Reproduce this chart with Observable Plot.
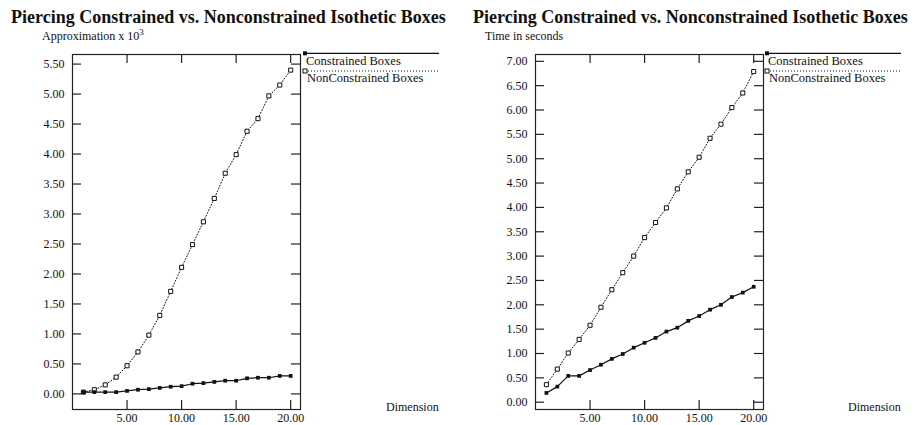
<!DOCTYPE html>
<html>
<head>
<meta charset="utf-8">
<script src="https://cdn.jsdelivr.net/npm/d3@7"></script>
<script src="https://cdn.jsdelivr.net/npm/@observablehq/plot@0.6"></script>
<style>
  html, body { margin: 0; padding: 0; background: #fff; }
  #root { position: relative; width: 914px; height: 425px; overflow: hidden; font-family: "Liberation Serif", "Times New Roman", serif; color: #111; }
  .abs { position: absolute; white-space: nowrap; line-height: 1; }
  .title { font-size: 18px; font-weight: bold; }
  .lbl { font-size: 12px; }
  .leg { font-size: 12.5px; }
  sup { font-size: 9px; vertical-align: 5px; line-height: 0; }
</style>
</head>
<body>
<div id="root"></div>
<script>
// ---- data ----
const dims = [1,2,3,4,5,6,7,8,9,10,11,12,13,14,15,16,17,18,19,20];
const approxConstrained    = [0.03,0.03,0.03,0.03,0.05,0.07,0.08,0.10,0.12,0.13,0.17,0.18,0.20,0.22,0.22,0.26,0.27,0.27,0.30,0.30];
const approxNonConstrained = [0.03,0.07,0.15,0.28,0.47,0.70,0.98,1.31,1.71,2.11,2.49,2.87,3.26,3.68,3.99,4.38,4.59,4.97,5.15,5.40];
const timeConstrained      = [0.19,0.32,0.54,0.54,0.66,0.77,0.89,0.99,1.12,1.22,1.32,1.45,1.53,1.67,1.77,1.90,2.00,2.16,2.25,2.37];
const timeNonConstrained   = [0.36,0.68,1.01,1.29,1.58,1.95,2.31,2.66,3.00,3.38,3.69,3.99,4.38,4.73,5.03,5.42,5.71,6.05,6.35,6.79];
const xTicks = [5,10,15,20];
const approxTicks = [0,0.5,1,1.5,2,2.5,3,3.5,4,4.5,5,5.5];
const timeTicks = [0,0.5,1,1.5,2,2.5,3,3.5,4,4.5,5,5.5,6,6.5,7];
const seriesNames = ["Constrained Boxes", "NonConstrained Boxes"];
const titleText = "Piercing Constrained vs. Nonconstrained Isothetic Boxes";
const xLabel = "Dimension";

const root = document.getElementById("root");
const H = 425, MT = 54, MB = 16;
const TICK = 9;

function chart({left, width, ml, mr, yDomain, yTicks, cons, non}) {
  const fw = width - ml - mr, fh = H - MT - MB;
  const consData = dims.map((d, i) => ({x: d, y: cons[i]}));
  const nonData = dims.map((d, i) => ({x: d, y: non[i]}));
  const fmt = d => d.toFixed(2);
  const svg = Plot.plot({
    width, height: H,
    marginLeft: ml, marginRight: mr, marginTop: MT, marginBottom: MB,
    x: {domain: [0, 20.9]},
    y: {domain: yDomain},
    style: {fontFamily: '"Liberation Serif", "Times New Roman", serif', fontSize: "12px", color: "#111", background: "transparent", overflow: "visible"},
    marks: [
      Plot.frame({stroke: "#222", strokeWidth: 1.2}),
      Plot.tickX(xTicks, {x: d => d, insetBottom: fh - TICK, stroke: "#222", strokeWidth: 1.2}),
      Plot.tickX(xTicks, {x: d => d, insetTop: fh - TICK, stroke: "#222", strokeWidth: 1.2}),
      Plot.tickY(yTicks, {y: d => d, insetRight: fw - TICK, stroke: "#222", strokeWidth: 1.2}),
      Plot.tickY(yTicks, {y: d => d, insetLeft: fw - TICK, stroke: "#222", strokeWidth: 1.2}),
      Plot.axisY(yTicks, {tickSize: 0, tickPadding: 8, tickFormat: fmt, label: null}),
      Plot.axisX(xTicks, {tickSize: 0, tickPadding: 4, tickFormat: fmt, label: null}),
      Plot.line(nonData, {x: "x", y: "y", stroke: "#111", strokeWidth: 1, strokeDasharray: "1,2"}),
      Plot.line(consData, {x: "x", y: "y", stroke: "#111", strokeWidth: 1.2}),
      Plot.dot(nonData, {x: "x", y: "y", symbol: "square", r: 2.3, fill: "white", stroke: "#111", strokeWidth: 1}),
      Plot.dot(consData, {x: "x", y: "y", symbol: "square", r: 2.1, fill: "#111", stroke: "none"})
    ]
  });
  svg.style.position = "absolute";
  svg.style.left = left + "px";
  svg.style.top = "0px";
  root.appendChild(svg);
}

function addText(cls, html, x, top) {
  const d = document.createElement("div");
  d.className = "abs " + cls;
  d.innerHTML = html;
  d.style.left = x + "px";
  d.style.top = top + "px";
  root.appendChild(d);
}

function legend(x0, x1) {
  const ns = "http://www.w3.org/2000/svg";
  const s = document.createElementNS(ns, "svg");
  s.setAttribute("width", 914); s.setAttribute("height", 425);
  s.style.position = "absolute"; s.style.left = "0"; s.style.top = "0"; s.style.overflow = "visible";
  const y1 = 53.3, y2 = 71;
  s.innerHTML =
    `<line x1="${x0}" x2="${x1}" y1="${y1}" y2="${y1}" stroke="#111" stroke-width="1.2"/>` +
    `<rect x="${x0-2}" y="${y1-2}" width="4" height="4" fill="#111"/>` +
    `<line x1="${x0}" x2="${x1}" y1="${y2}" y2="${y2}" stroke="#111" stroke-width="1" stroke-dasharray="1,2"/>` +
    `<rect x="${x0-2}" y="${y2-2}" width="4" height="4" fill="white" stroke="#111" stroke-width="1"/>`;
  root.appendChild(s);
  addText("leg", seriesNames[0], x0 + 1, 54.5);
  addText("leg", seriesNames[1], x0 + 2, 72);
}

chart({left: 0, width: 457, ml: 72, mr: 157, yDomain: [-0.26, 5.66], yTicks: approxTicks, cons: approxConstrained, non: approxNonConstrained});
chart({left: 457, width: 457, ml: 78, mr: 151, yDomain: [-0.15, 7.14], yTicks: timeTicks, cons: timeConstrained, non: timeNonConstrained});

addText("title", titleText, 11, 8);
addText("title", titleText, 473, 8);
addText("lbl", "Approximation x 10<sup>3</sup>", 42, 30);
addText("lbl", "Time in seconds", 485, 30);
addText("lbl", xLabel, 386, 401);
addText("lbl", xLabel, 848, 401);
legend(305, 439);
legend(767, 901);
</script>
</body>
</html>
